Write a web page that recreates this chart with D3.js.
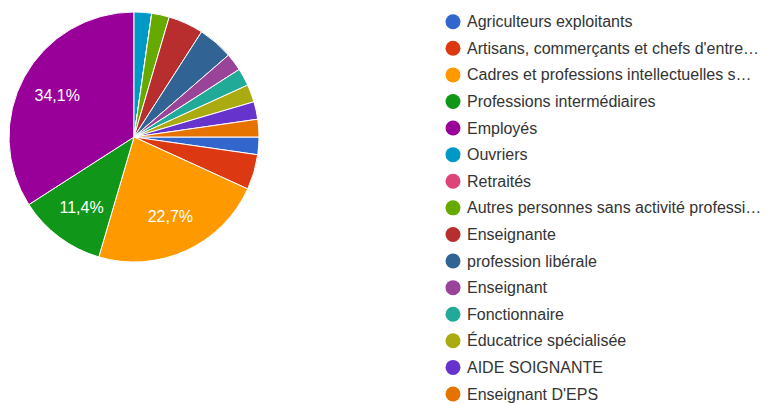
<!DOCTYPE html>
<html>
<head>
<meta charset="utf-8">
<script src="https://cdn.jsdelivr.net/npm/d3@7"></script>
<style>
  body { margin: 0; background: #fff; }
  svg { display: block; font-family: Arial, "Liberation Sans", sans-serif; }
</style>
</head>
<body>
<script>
// categories as shown in the legend (long ones are cut like the original)
var categories = [
  "Agriculteurs exploitants",
  "Artisans, commerçants et chefs d'entre…",
  "Cadres et professions intellectuelles s…",
  "Professions intermédiaires",
  "Employés",
  "Ouvriers",
  "Retraités",
  "Autres personnes sans activité professi…",
  "Enseignante",
  "profession libérale",
  "Enseignant",
  "Fonctionnaire",
  "Éducatrice spécialisée",
  "AIDE SOIGNANTE",
  "Enseignant D'EPS"
]

// answers per category (44 in total)
var counts = [1, 2, 10, 5, 15, 1, 0, 1, 2, 2, 1, 1, 1, 1, 1]

var colors = ["#3366cc", "#dc3912", "#ff9900", "#109618", "#990099", "#0099c6",
              "#dd4477", "#66aa00", "#b82e2e", "#316395", "#994499", "#22aa99",
              "#aaaa11", "#6633cc", "#e67300"]

var screen = {width: 767, height: 403}
var center = {x: 134, y: 137}
var radius = 125

var total = d3.sum(counts)

var svg = d3.select("body")
  .append("svg")
  .attr("width", screen.width)
  .attr("height", screen.height)

var cScale = d3.scaleOrdinal()
  .domain(categories)
  .range(colors)

// the first slice starts so that "Ouvriers" begins at 12 o'clock
var before = d3.sum(counts.slice(0, 5))
var start = -2 * Math.PI * before / total

var pie = d3.pie()
  .sort(null)
  .value(function(d) { return d.count })
  .startAngle(start)
  .endAngle(start + 2 * Math.PI)

var rows = categories.map(function(c, i) { return {name: c, count: counts[i]} })

var arc = d3.arc().innerRadius(0).outerRadius(radius)
var labelArc = d3.arc().innerRadius(radius * 0.7).outerRadius(radius * 0.7)

var g = svg.append("g")
  .attr("transform", "translate(" + center.x + "," + center.y + ")")

var slices = pie(rows)

g.selectAll("path")
  .data(slices)
  .enter()
  .append("path")
  .attr("d", arc)
  .attr("fill", function(d) { return cScale(d.data.name) })
  .attr("stroke", "#fff")
  .attr("stroke-width", 1)

var fmt = function(v) { return d3.format(".1f")(v).replace(".", ",") + "%" }

g.selectAll("text.pct")
  .data(slices.filter(function(d) { return d.data.count / total > 0.1 }))
  .enter()
  .append("text")
  .attr("class", "pct")
  .attr("transform", function(d) { return "translate(" + labelArc.centroid(d) + ")" })
  .attr("text-anchor", "middle")
  .attr("dy", "0.35em")
  .attr("fill", "#fff")
  .style("font-size", "16px")
  .text(function(d) { return fmt(100 * d.data.count / total) })

// legend
var yScale = d3.scaleLinear()
  .domain([0, categories.length - 1])
  .range([21.7, 394])

var legend = svg.append("g")
  .selectAll("g")
  .data(categories)
  .enter()
  .append("g")
  .attr("transform", function(d, i) { return "translate(453," + yScale(i) + ")" })

legend.append("circle")
  .attr("r", 7.5)
  .attr("fill", function(d) { return cScale(d) })

legend.append("text")
  .attr("x", 14)
  .attr("dy", "0.35em")
  .attr("fill", "#333")
  .style("font-size", "16px")
  .text(function(d) { return d })
</script>
</body>
</html>
